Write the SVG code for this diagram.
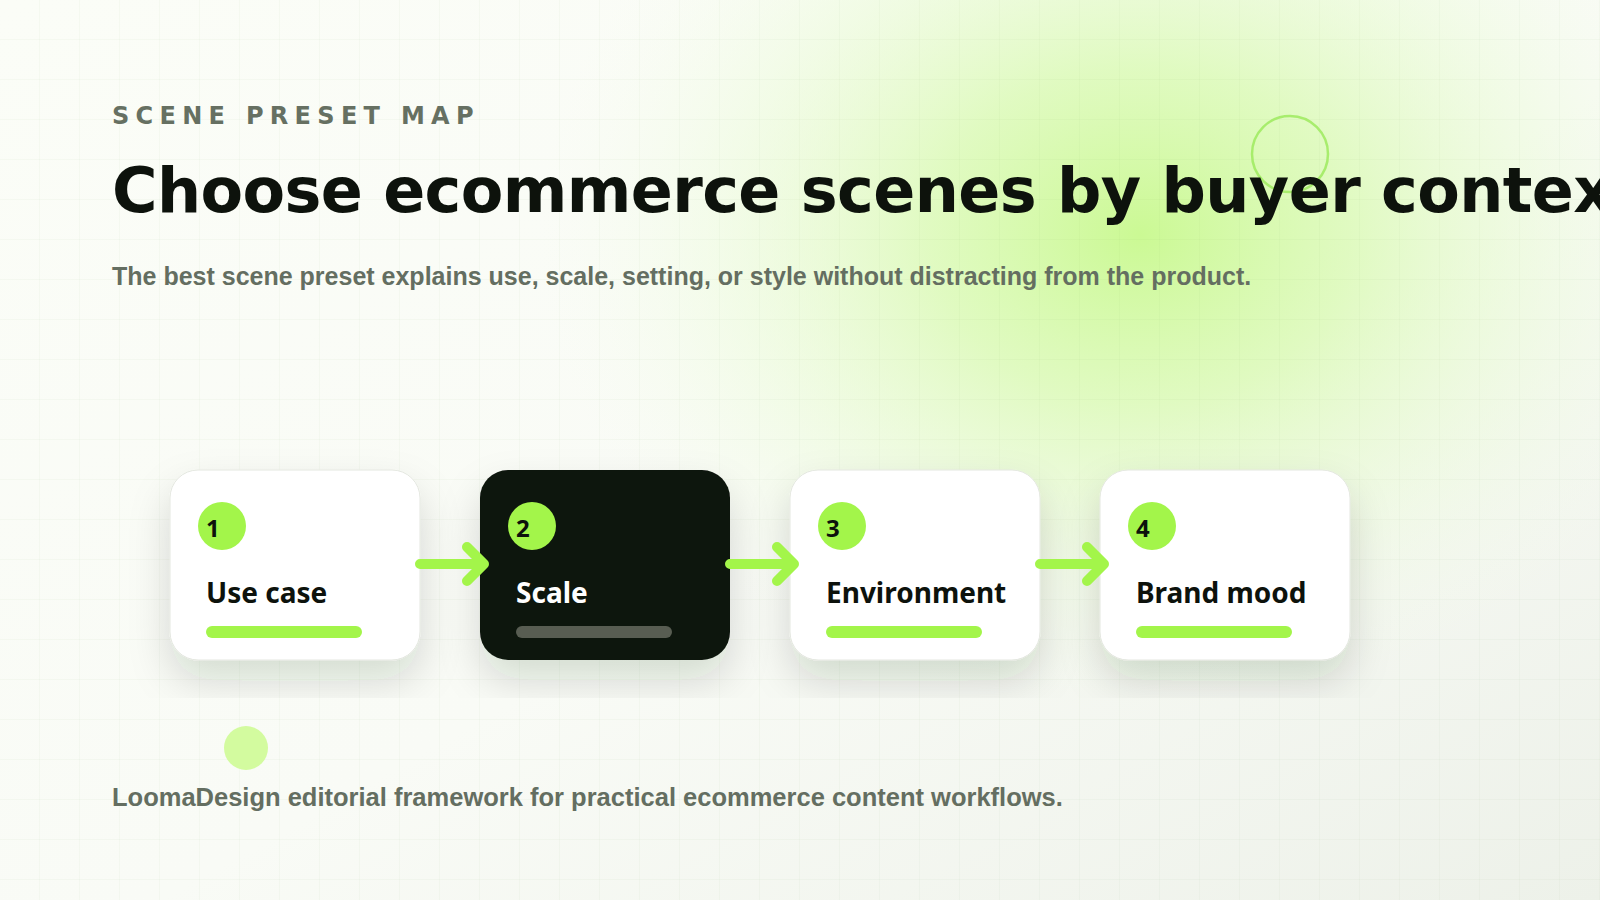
<svg xmlns="http://www.w3.org/2000/svg" width="1600" height="900" viewBox="0 0 1600 900">
  <defs>
    <linearGradient id="bg" x1="0" y1="0" x2="1" y2="1">
      <stop offset="0" stop-color="#fbfdf7"/>
      <stop offset="0.55" stop-color="#f9fbf6"/>
      <stop offset="1" stop-color="#edf1e9"/>
    </linearGradient>
    <radialGradient id="glow" cx="1140" cy="235" r="600" gradientUnits="userSpaceOnUse" gradientTransform="translate(1140 235) scale(1 0.8) translate(-1140 -235)">
      <stop offset="0" stop-color="#cbf994" stop-opacity="1"/>
      <stop offset="0.35" stop-color="#d9fab2" stop-opacity="0.78"/>
      <stop offset="0.7" stop-color="#e9fbd5" stop-opacity="0.42"/>
      <stop offset="1" stop-color="#f4fbec" stop-opacity="0"/>
    </radialGradient>
    <pattern id="grid" width="40" height="40" patternUnits="userSpaceOnUse">
      <path d="M40 0 V40 M0 40 H40" fill="none" stroke="#5a7a3c" stroke-opacity="0.07" stroke-width="1"/>
    </pattern>
    <filter id="shadow" x="-20%" y="-20%" width="140%" height="140%">
      <feDropShadow dx="0" dy="20" stdDeviation="20" flood-color="#1e221b" flood-opacity="0.15"/>
    </filter>
    <style>
      .eyebrow { font-family: "DejaVu Sans", sans-serif; font-weight: 700; font-size: 24px; letter-spacing: 6.3px; fill: #667062; }
      .title { font-family: "DejaVu Sans", sans-serif; font-weight: 700; font-size: 62px; letter-spacing: -0.6px; fill: #0d120c; }
      .sub { font-family: "Liberation Sans", Arial, sans-serif; font-weight: 700; font-size: 25px; fill: #646e61; }
      .foot { font-family: "Liberation Sans", Arial, sans-serif; font-weight: 700; font-size: 25.5px; fill: #646e61; }
      .card { fill: #ffffff; stroke: #e4e7e0; stroke-width: 1; }
      .card-dark { fill: #0d150d; }
      .badge { fill: #a3f54a; }
      .num { font-family: "Noto Sans", "Open Sans", sans-serif; font-weight: 700; font-size: 24px; fill: #0d120c; }
      .label { font-family: "Noto Sans", "Open Sans", sans-serif; font-weight: 700; font-size: 28px; fill: #0d120c; }
      .label-dark { fill: #ffffff; }
      .bar { fill: #a3f54a; }
      .bar-dark { fill: #585d52; }
      .conn { fill: none; stroke: #a3f54a; stroke-width: 10; stroke-linecap: round; stroke-linejoin: round; }
    </style>
  </defs>

  <rect width="1600" height="900" fill="url(#bg)"/>
  <rect width="1600" height="900" fill="url(#glow)"/>
  <rect width="1600" height="900" fill="url(#grid)"/>

  <circle cx="1290" cy="154" r="38" fill="none" stroke="#9eea5e" stroke-opacity="0.85" stroke-width="2.5"/>
  <circle cx="246" cy="748" r="22" fill="#d3fb9f"/>

  <text class="eyebrow" x="112" y="124">SCENE PRESET MAP</text>
  <text class="title" x="112" y="212">Choose ecommerce scenes by buyer context</text>
  <text class="sub" x="112" y="285">The best scene preset explains use, scale, setting, or style without distracting from the product.</text>

  <g id="node-1">
    <rect class="card" x="170" y="470" width="250" height="190" rx="28" filter="url(#shadow)"/>
    <circle class="badge" cx="222" cy="526" r="24"/>
    <text class="num" x="206" y="537">1</text>
    <text class="label" x="206" y="603">Use case</text>
    <rect class="bar" x="206" y="626" width="156" height="12" rx="6"/>
  </g>
  <g id="node-2">
    <rect class="card-dark" x="480" y="470" width="250" height="190" rx="28" filter="url(#shadow)"/>
    <circle class="badge" cx="532" cy="526" r="24"/>
    <text class="num" x="516" y="537">2</text>
    <text class="label label-dark" x="516" y="603">Scale</text>
    <rect class="bar-dark" x="516" y="626" width="156" height="12" rx="6"/>
  </g>
  <g id="node-3">
    <rect class="card" x="790" y="470" width="250" height="190" rx="28" filter="url(#shadow)"/>
    <circle class="badge" cx="842" cy="526" r="24"/>
    <text class="num" x="826" y="537">3</text>
    <text class="label" x="826" y="603">Environment</text>
    <rect class="bar" x="826" y="626" width="156" height="12" rx="6"/>
  </g>
  <g id="node-4">
    <rect class="card" x="1100" y="470" width="250" height="190" rx="28" filter="url(#shadow)"/>
    <circle class="badge" cx="1152" cy="526" r="24"/>
    <text class="num" x="1136" y="537">4</text>
    <text class="label" x="1136" y="603">Brand mood</text>
    <rect class="bar" x="1136" y="626" width="156" height="12" rx="6"/>
  </g>

  <g id="connectors">
    <path class="conn" d="M420 564 H484 M467 547 L484 564 L467 581"/>
    <path class="conn" d="M730 564 H794 M777 547 L794 564 L777 581"/>
    <path class="conn" d="M1040 564 H1104 M1087 547 L1104 564 L1087 581"/>
  </g>

  <text class="foot" x="112" y="806">LoomaDesign editorial framework for practical ecommerce content workflows.</text>
</svg>
